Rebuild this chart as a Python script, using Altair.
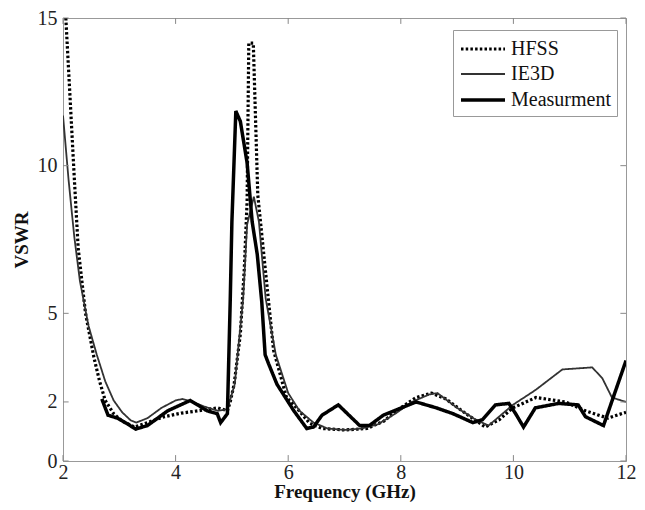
import altair as alt
import pandas as pd

series_names = ["HFSS", "IE3D", "Measurment"]

hfss_f = [2.05, 2.12, 2.2, 2.27, 2.4, 2.55, 2.65, 2.75, 2.9, 3.05, 3.27, 3.5, 3.8, 4.1, 4.4,
          4.75, 4.92, 4.97, 5.04, 5.15, 5.22, 5.27, 5.3, 5.38, 5.46, 5.59, 5.74, 5.97, 6.15,
          6.38, 6.6, 7.0, 7.4, 7.7, 7.92, 8.27, 8.55, 8.8, 9.16, 9.5, 9.75, 9.99, 10.4, 10.92,
          11.28, 11.68, 12.0]
hfss_v = [15.0, 12.5, 9.6, 7.2, 5.0, 3.5, 2.7, 2.05, 1.6, 1.35, 1.15, 1.3, 1.5, 1.62, 1.7,
          1.8, 1.7, 2.0, 2.6, 4.3, 6.5, 8.8, 14.15, 14.15, 9.0, 6.55, 3.75, 2.15, 1.8,
          1.28, 1.1, 1.05, 1.1, 1.35, 1.7, 2.15, 2.3, 2.1, 1.6, 1.15, 1.4, 1.8, 2.15, 2.0,
          1.7, 1.45, 1.65]

ie3d_f = [2.0, 2.1, 2.2, 2.3, 2.45, 2.6, 2.75, 2.9, 3.05, 3.2, 3.3, 3.5, 3.75, 4.0, 4.12,
          4.3, 4.5, 4.75, 4.92, 5.05, 5.2, 5.27, 5.39, 5.48, 5.6, 5.78, 6.0, 6.2, 6.45, 6.7,
          7.0, 7.3, 7.6, 7.9, 8.2, 8.5, 8.65, 9.0, 9.33, 9.56, 9.99, 10.39, 10.87, 11.4,
          11.58, 11.75, 12.0]
ie3d_v = [11.7, 9.5, 7.6, 6.1, 4.6, 3.6, 2.7, 2.05, 1.65, 1.38, 1.3, 1.45, 1.8, 2.05, 2.1,
          2.0, 1.85, 1.7, 1.75, 2.6, 5.5, 8.0, 8.95, 8.1, 5.5, 3.6, 2.3, 1.7, 1.3, 1.1,
          1.05, 1.1, 1.25, 1.6, 2.0, 2.25, 2.3, 1.8, 1.4, 1.2, 1.9, 2.4, 3.1, 3.17,
          2.8, 2.15, 2.0]

meas_f = [2.69, 2.8, 2.97, 3.15, 3.29, 3.5, 3.86, 4.26, 4.56, 4.74, 4.8, 4.92, 4.97, 5.0,
          5.07, 5.15, 5.27, 5.36, 5.45, 5.53, 5.59, 5.65, 5.8, 6.1, 6.33, 6.45, 6.6, 6.89,
          7.27, 7.44, 7.69, 8.27, 8.63, 8.93, 9.28, 9.45, 9.68, 9.92, 10.04, 10.18, 10.39,
          10.8, 11.15, 11.28, 11.6, 12.0]
meas_v = [2.1, 1.55, 1.45, 1.25, 1.08, 1.2, 1.7, 2.05, 1.7, 1.6, 1.3, 1.6, 5.4, 8.1,
          11.85, 11.5, 10.1, 8.1, 7.0, 5.4, 3.6, 3.3, 2.6, 1.7, 1.1, 1.15, 1.55, 1.9,
          1.2, 1.2, 1.55, 2.0, 1.8, 1.6, 1.3, 1.4, 1.9, 1.95, 1.6, 1.15, 1.8,
          1.95, 1.9, 1.5, 1.2, 3.4]

x_ticks = [2, 4, 6, 8, 10, 12]
y_ticks = [0, 2, 5, 10, 15]

rows = []
for name, fs, vs in zip(series_names, [hfss_f, ie3d_f, meas_f], [hfss_v, ie3d_v, meas_v]):
    for i, (f, v) in enumerate(zip(fs, vs)):
        rows.append({"series": name, "f": f, "v": v, "i": i})
df = pd.DataFrame(rows)

xs = alt.Scale(domain=[2, 12], nice=False, zero=False)
ys = alt.Scale(domain=[0, 15], nice=False)
x_axis = alt.Axis(values=x_ticks, title="Frequency (GHz)", labelFlush=False)
y_axis = alt.Axis(values=y_ticks, title="VSWR", labelFlush=False)

leg = alt.Legend(
    title=None, orient="none", legendX=390, legendY=12,
    fillColor="white", strokeColor="#999", padding=6,
    labelFont="Liberation Serif", labelFontSize=20, labelColor="#111",
    symbolType="M-1,0H3", symbolSize=484, labelOffset=26, rowPadding=3,
)

lines = alt.Chart(df).mark_line(clip=True).encode(
    x=alt.X("f:Q", scale=xs, axis=x_axis),
    y=alt.Y("v:Q", scale=ys, axis=y_axis),
    color=alt.Color("series:N", scale=alt.Scale(domain=series_names, range=["#000000", "#333333", "#000000"]), legend=leg),
    strokeDash=alt.StrokeDash("series:N", scale=alt.Scale(domain=series_names, range=[[2.5, 2.2], [1, 0], [1, 0]]), legend=leg),
    strokeWidth=alt.StrokeWidth("series:N", scale=alt.Scale(type="ordinal", domain=series_names, range=[3.2, 1.8, 3.5]), legend=leg),
    order="i:Q",
)

tick_gray = "#888888"
xt = pd.DataFrame({"f": x_ticks})
yt = pd.DataFrame({"v": y_ticks})

bottom_ticks = alt.Chart(xt).mark_rule(color=tick_gray, strokeWidth=1).encode(
    x=alt.X("f:Q", scale=xs, axis=x_axis), y=alt.Y(datum=0, scale=ys, axis=y_axis), y2=alt.datum(0.2))
top_ticks = alt.Chart(xt).mark_rule(color=tick_gray, strokeWidth=1).encode(
    x=alt.X("f:Q", scale=xs, axis=x_axis), y=alt.Y(datum=15, scale=ys, axis=y_axis), y2=alt.datum(14.8))
left_ticks = alt.Chart(yt).mark_rule(color=tick_gray, strokeWidth=1).encode(
    y=alt.Y("v:Q", scale=ys, axis=y_axis), x=alt.X(datum=2, scale=xs, axis=x_axis), x2=alt.datum(2.1))
right_ticks = alt.Chart(yt).mark_rule(color=tick_gray, strokeWidth=1).encode(
    y=alt.Y("v:Q", scale=ys, axis=y_axis), x=alt.X(datum=12, scale=xs, axis=x_axis), x2=alt.datum(11.9))

chart = alt.layer(lines, bottom_ticks, top_ticks, left_ticks, right_ticks).properties(
    width=563, height=443,
    autosize=alt.AutoSizeParams(type="none"),
    padding={"left": 55, "top": 10, "right": 11, "bottom": 41},
).configure_view(
    stroke="#999999", strokeWidth=1
).configure_axis(
    labelFont="Liberation Serif", labelFontSize=20, labelColor="#222222",
    titleFont="Liberation Serif", titleFontSize=19, titleFontWeight="bold", titleColor="#111111",
    domainColor="#999999", ticks=False, grid=False, labelPadding=3,
).configure_axisX(titlePadding=0, labelPadding=1).configure_axisY(titlePadding=6, labelPadding=6)

chart.save("out.html", embed_options={"renderer": "svg", "actions": False})
